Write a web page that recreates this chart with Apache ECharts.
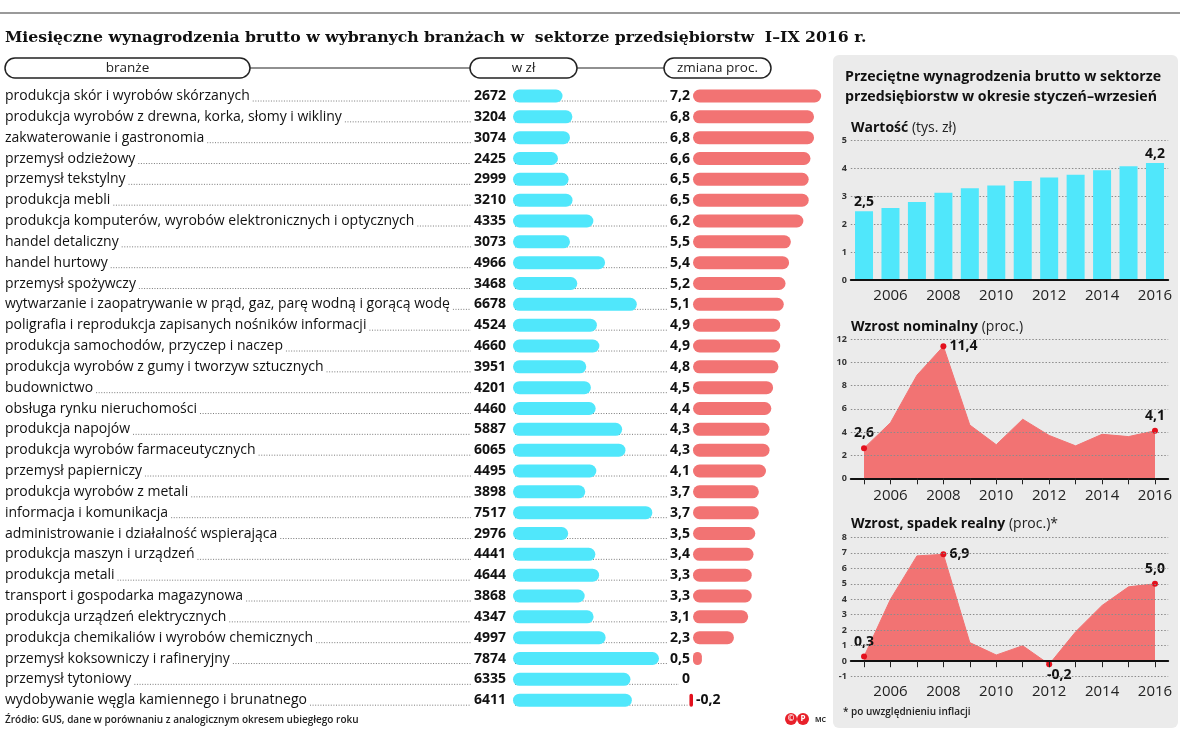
<!DOCTYPE html>
<html><head><meta charset="utf-8">
<script src="https://cdn.jsdelivr.net/npm/echarts@6/dist/echarts.min.js"></script>
<style>html,body{margin:0;padding:0;background:#fff}#c{width:1200px;height:737px}</style>
</head><body><div id="c"></div>
<script>
// ---------- DATA ----------
const branches = [
  'produkcja skór i wyrobów skórzanych',
  'produkcja wyrobów z drewna, korka, słomy i wikliny',
  'zakwaterowanie i gastronomia',
  'przemysł odzieżowy',
  'przemysł tekstylny',
  'produkcja mebli',
  'produkcja komputerów, wyrobów elektronicznych i optycznych',
  'handel detaliczny',
  'handel hurtowy',
  'przemysł spożywczy',
  'wytwarzanie i zaopatrywanie w prąd, gaz, parę wodną i gorącą wodę',
  'poligrafia i reprodukcja zapisanych nośników informacji',
  'produkcja samochodów, przyczep i naczep',
  'produkcja wyrobów z gumy i tworzyw sztucznych',
  'budownictwo',
  'obsługa rynku nieruchomości',
  'produkcja napojów',
  'produkcja wyrobów farmaceutycznych',
  'przemysł papierniczy',
  'produkcja wyrobów z metali',
  'informacja i komunikacja',
  'administrowanie i działalność wspierająca',
  'produkcja maszyn i urządzeń',
  'produkcja metali',
  'transport i gospodarka magazynowa',
  'produkcja urządzeń elektrycznych',
  'produkcja chemikaliów i wyrobów chemicznych',
  'przemysł koksowniczy i rafineryjny',
  'przemysł tytoniowy',
  'wydobywanie węgla kamiennego i brunatnego'
];
const wages = [2672,3204,3074,2425,2999,3210,4335,3073,4966,3468,6678,4524,4660,3951,4201,4460,5887,6065,4495,3898,7517,2976,4441,4644,3868,4347,4997,7874,6335,6411];
const changes = [7.2,6.8,6.8,6.6,6.5,6.5,6.2,5.5,5.4,5.2,5.1,4.9,4.9,4.8,4.5,4.4,4.3,4.3,4.1,3.7,3.7,3.5,3.4,3.3,3.3,3.1,2.3,0.5,0,-0.2];

const years = ['2005','2006','2007','2008','2009','2010','2011','2012','2013','2014','2015','2016'];
const avgWage = [2.47,2.58,2.80,3.13,3.29,3.39,3.55,3.68,3.78,3.94,4.08,4.2];
const avgWageLabelled = [0,11];
const nominal = [2.6,4.8,8.9,11.4,4.6,2.9,5.1,3.7,2.8,3.8,3.6,4.1];
const nominalLabelled = {0:'top',3:'right',11:'top'};
const real = [0.3,4.0,6.8,6.9,1.2,0.4,1.0,-0.2,1.9,3.6,4.8,5.0];
const realLabelled = {0:'top',3:'right',7:'bottom',11:'top'};

// ---------- STYLE ----------
const CYAN = '#50e7fb', RED = '#f27373', DOT = '#e3101d';
const FONT = '"Open Sans", sans-serif';
const fmt = v => v.toFixed(1).replace('.', ',');

const chart = echarts.init(document.getElementById('c'));

const rowTop = 85.6, rowH = 625;
const cyanLeft = 513, cyanW = 185.4;
const redLeft = 675.2, redW = 195.8;

const splitDots = {show:true, lineStyle:{color:'#8c8c8c', width:1, type:[1.5,1.8]}};
const yLab = {fontSize:9, fontWeight:'bold', color:'#333', margin:4, fontFamily:FONT};
const xLab = (m) => ({fontSize:15, color:'#222', margin:m, fontFamily:FONT, interval:(i,v)=> (+v)%2===0});

function lineData(vals, lab) {
  return vals.map((v,i) => {
    if (lab[i] === undefined) return v;
    const pos = lab[i];
    return {value:v, symbol:'circle', symbolSize:6, itemStyle:{color:DOT},
      label:{show:true, position:pos, distance: pos==='right'?3:5, offset: pos==='bottom'?[10,-4]:[0,0],
        formatter: p => fmt(p.value), fontSize:14, fontWeight:'bold', color:'#111', fontFamily:FONT}};
  });
}

const option = {
  animation:false,
  grid:[
    {left:cyanLeft, top:rowTop, width:cyanW, height:rowH},
    {left:redLeft, top:rowTop, width:redW, height:rowH},
    {left:850.8, top:140.7, width:317.4, height:139.3},
    {left:850.8, top:339.3, width:317.4, height:139},
    {left:850.8, top:537.3, width:317.4, height:139.4}
  ],
  xAxis:[
    {gridIndex:0, type:'value', min:0, max:10000, show:false},
    {gridIndex:1, type:'value', min:-1, max:10, show:false},
    {gridIndex:2, type:'category', data:years, axisTick:{show:false},
      axisLine:{lineStyle:{color:'#111', width:2}}, axisLabel:xLab(8), z:5},
    {gridIndex:3, type:'category', data:years, boundaryGap:true,
      axisTick:{show:true, alignWithLabel:true, interval:0, length:6, lineStyle:{color:'#222'}},
      axisLine:{lineStyle:{color:'#111', width:2}}, axisLabel:xLab(10), z:5},
    {gridIndex:4, type:'category', data:years, boundaryGap:true,
      axisTick:{show:true, alignWithLabel:true, interval:0, length:6, lineStyle:{color:'#222'}},
      axisLine:{onZero:true, lineStyle:{color:'#111', width:2}}, axisLabel:xLab(8), z:5}
  ],
  yAxis:[
    {gridIndex:0, type:'category', data:branches, inverse:true, axisLine:{show:false}, axisTick:{show:false},
      axisLabel:{align:'left', margin:cyanLeft-5, fontSize:14, color:'#111', fontFamily:FONT}},
    {gridIndex:1, type:'category', data:branches, inverse:true, show:false},
    {gridIndex:2, type:'value', min:0, max:5, interval:1, axisLabel:yLab, splitLine:splitDots},
    {gridIndex:3, type:'value', min:0, max:12, interval:2, axisLabel:yLab, splitLine:splitDots, z:3},
    {gridIndex:4, type:'value', min:-1, max:8, interval:1, axisLabel:yLab, splitLine:splitDots, z:3}
  ],
  series:[
    {type:'bar', xAxisIndex:0, yAxisIndex:0, data:wages, barWidth:13, z:4,
      itemStyle:{color:CYAN, borderRadius:6.5},
      label:{show:true, position:'left', distance:7, fontSize:14, fontWeight:'bold', color:'#111', fontFamily:FONT}},
    {type:'bar', xAxisIndex:1, yAxisIndex:1, barWidth:13, z:4,
      data: changes.map(v => v < 0
        ? {value:v, itemStyle:{color:DOT}, label:{position:'right'}}
        : {value:v}),
      itemStyle:{color:RED, borderRadius:6.5},
      label:{show:true, position:'left', distance:3, fontSize:14, fontWeight:'bold', color:'#111', fontFamily:FONT,
        formatter: p => p.value === 0 ? '0' : fmt(p.value)}},
    {type:'bar', xAxisIndex:2, yAxisIndex:2, barWidth:18, itemStyle:{color:CYAN},
      data: avgWage.map((v,i) => avgWageLabelled.includes(i)
        ? {value:v, label:{show:true, position:'top', distance:2, formatter:p=>fmt(p.value), fontSize:14, fontWeight:'bold', color:'#111', fontFamily:FONT}}
        : v)},
    {type:'line', xAxisIndex:3, yAxisIndex:3, symbol:'none', data:lineData(nominal, nominalLabelled),
      lineStyle:{color:RED, width:1}, areaStyle:{color:RED, opacity:1}, z:2},
    {type:'line', xAxisIndex:4, yAxisIndex:4, symbol:'none', data:lineData(real, realLabelled),
      lineStyle:{color:RED, width:1}, areaStyle:{color:RED, opacity:1}, z:2}
  ]
};
chart.setOption(option);

// ---------- decorations & leaders ----------
const cv = document.createElement('canvas').getContext('2d');
function tw(t, f) { cv.font = f; return cv.measureText(t).width; }

const g = [];
g.push({type:'rect', z:-10, shape:{x:833, y:55, width:345, height:673, r:6}, style:{fill:'#ebebeb'}});
g.push({type:'line', shape:{x1:0, y1:13, x2:1180, y2:13}, style:{stroke:'#9a9a9a', lineWidth:2}});
g.push({type:'text', x:5, y:38, style:{text:'Miesięczne wynagrodzenia brutto w wybranych branżach w  sektorze przedsiębiorstw  I–IX 2016 r.',
  font:'bold 15.7px "DejaVu Serif", serif', fill:'#111', verticalAlign:'middle'}});
// header pills
g.push({type:'line', shape:{x1:250, y1:68, x2:664, y2:68}, style:{stroke:'#222', lineWidth:1.2}});
[[5,245,'branże'],[470,107,'w zł'],[664,107,'zmiana proc.']].forEach(([x,w,t]) => {
  g.push({type:'rect', shape:{x:x, y:58, width:w, height:20, r:10}, style:{fill:'#fff', stroke:'#222', lineWidth:1.5}});
  g.push({type:'text', x:x+w/2, y:68, style:{text:t, font:'13.5px '+FONT, fill:'#222', align:'center', verticalAlign:'middle'}});
});
// right panel texts
g.push({type:'text', x:845, y:67, style:{text:'Przeciętne wynagrodzenia brutto w sektorze\nprzedsiębiorstw w okresie styczeń–wrzesień',
  font:'bold 14.2px '+FONT, fill:'#111', lineHeight:20}});
function sub(y, b, n) {
  g.push({type:'text', x:851, y:y, style:{text:'{b|'+b+'}{n|'+n+'}', verticalAlign:'middle',
    rich:{b:{font:'bold 14px '+FONT, fill:'#111'}, n:{font:'14px '+FONT, fill:'#222'}}}});
}
sub(128, 'Wartość', ' (tys. zł)');
sub(327, 'Wzrost nominalny', ' (proc.)');
sub(524, 'Wzrost, spadek realny', ' (proc.)*');
g.push({type:'text', x:843, y:712, style:{text:'* po uwzględnieniu inflacji', font:'600 10px '+FONT, fill:'#222', verticalAlign:'middle'}});
g.push({type:'text', x:5, y:720, style:{text:'Źródło: GUS, dane w porównaniu z analogicznym okresem ubiegłego roku', font:'600 10px '+FONT, fill:'#222', verticalAlign:'middle'}});
// logo
[[791,'©'],[803,'P']].forEach(([x,t]) => {
  g.push({type:'circle', shape:{cx:x, cy:719, r:6}, style:{fill:'#e8202a'}});
  g.push({type:'text', x:x, y:719, style:{text:t, font:'bold 8px '+FONT, fill:'#fff', align:'center', verticalAlign:'middle'}});
});
g.push({type:'text', x:815, y:720, style:{text:'MC', font:'bold 7px '+FONT, fill:'#333', verticalAlign:'middle'}});

// dotted leaders
const nameFont = '14px ' + FONT, numFont = 'bold 14px ' + FONT;
branches.forEach((b, i) => {
  const p0 = chart.convertToPixel({gridIndex:0}, [0, i]);
  const r0 = chart.convertToPixel({gridIndex:1}, [0, i]);
  const rV = chart.convertToPixel({gridIndex:1}, [changes[i], i]);
  const y = p0[1] + 5;
  const x1 = 5 + tw(b, nameFont) + 3;
  const x2 = p0[0] - 7 - tw(String(wages[i]), numFont) - 3;
  let x4;
  if (changes[i] < 0) x4 = rV[0] - 2;
  else x4 = Math.min(r0[0], rV[0]) - 3 - tw(changes[i] === 0 ? '0' : fmt(changes[i]), numFont) - 3;
  const st = {stroke:'#7a7a7a', lineWidth:1, lineDash:[1,1.6]};
  if (x2 > x1) g.push({type:'line', z:1, shape:{x1:x1, y1:y, x2:x2, y2:y}, style:st});
  g.push({type:'line', z:1, shape:{x1:p0[0]+2, y1:y, x2:x4, y2:y}, style:st});
});
chart.setOption({graphic: g});
</script></body></html>
